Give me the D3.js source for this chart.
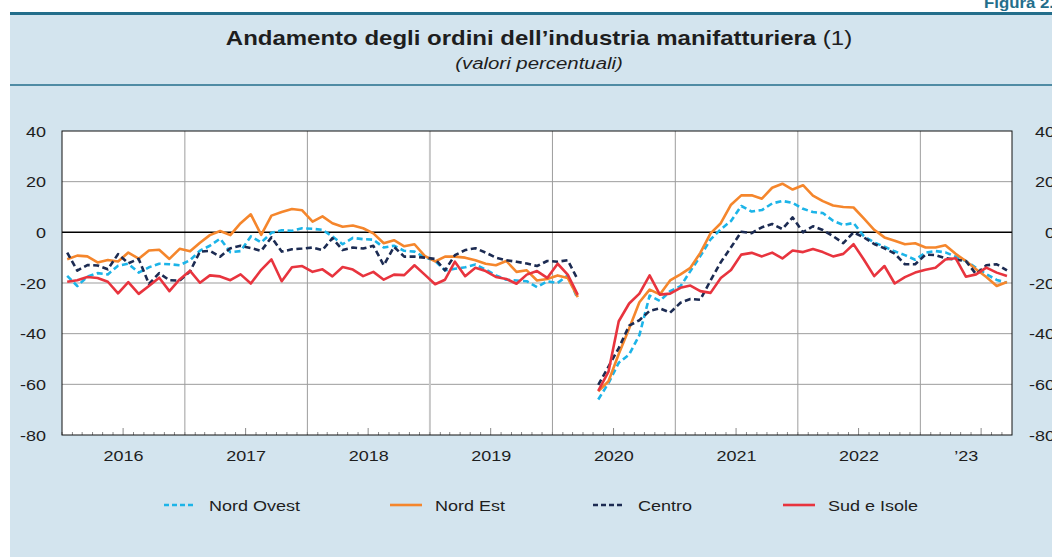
<!DOCTYPE html>

<head>
    <meta charset="utf-8">
    <script src="https://d3js.org/d3.v7.min.js"></script>
    <style>
        body { margin: 0; background: #ffffff; }
        text { font-family: "Liberation Sans", Arial, sans-serif; fill: #1e1e1e; }
    </style>
</head>

<body>
    <div id="chart"></div>
    <script>
        // months shown: Jan 2016 .. Sep 2023 (Apr 2020 missing)
        var startMonth = new Date(Date.UTC(2016, 0, 1))
        var endMonth = new Date(Date.UTC(2023, 9, 1))

        var yTicks = [40, 20, 0, -20, -40, -60, -80]
        var years = [2016, 2017, 2018, 2019, 2020, 2021, 2022, 2023]
        var yearLabels = ["2016", "2017", "2018", "2019", "2020", "2021", "2022", "\u201923"]
        var seriesNames = ["Nord Ovest", "Nord Est", "Centro", "Sud e Isole"]

        var nordOvest = [-17.2, -21.2, -17.5, -16.1, -16.6, -13.2, -12.4, -15.9, -13.8, -12.4, -12.6, -13,
            -11, -7.2, -5.3, -2.5, -7.8, -7.4, -1.6, -4, -0.2, 0.8, 0.6, 1.6,
            1.4, 1, -1.6, -4.7, -2.2, -2.7, -2.9, -6, -5.3, -7.3, -7.6, -9.8,
            -11.3, -15, -14.4, -13.8, -12.7, -14.7, -17, -18.7, -19, -19.3, -21.6, -19.3,
            -20, -17, -26.3, null, -66, -59.5, -51.5, -48.2, -40.6, -25, -27.1, -23.2,
            -21.3, -15.3, -9.4, -2.8, 1.2, 4.5, 10.4, 8.2, 8.8, 11.4, 12.4, 11.6,
            9.3, 8, 7.6, 4.6, 2.9, 3.7, -1.5, -4, -5.7, -7.5, -9, -10.8,
            -8, -7.4, -7.9, -9.6, -11.3, -14, -16.5, -18.8, -19.9]

        var nordEst = [-10.6, -9.2, -9.5, -11.9, -10.9, -11.5, -8, -10.4, -7.2, -6.9, -10.5, -6.5,
            -7.5, -4.1, -1.1, 0.5, -1.1, 3.6, 7.1, -1, 6.6, 8, 9.2, 8.7,
            4.2, 6.3, 3.6, 2.2, 2.7, 1.6, -0.4, -4.3, -3.1, -5.5, -4.7, -9.3,
            -11.5, -9.6, -9.6, -10, -11, -12.4, -13, -11.3, -15.6, -15, -19, -18.4,
            -17, -18, -25.6, null, -62.8, -58.8, -48, -38, -27.6, -22.6, -24.5, -19,
            -16.6, -14, -8.1, -0.4, 3.6, 10.9, 14.6, 14.6, 13.3, 17.6, 19.2, 16.9,
            18.6, 14.5, 12.3, 10.6, 10, 9.8, 5.5, 1, -2, -3.3, -4.7, -4.3,
            -6, -6, -5.1, -8.5, -11.3, -14.6, -17.6, -21.2, -19.6]

        var centro = [-8, -15.1, -12.9, -13.1, -14.6, -8.6, -12.2, -10.5, -20.4, -16.1, -18.9, -19.1,
            -15.4, -7.6, -7.3, -9.6, -6.3, -5.3, -6.2, -7.3, -2, -7.6, -6.7, -6.4,
            -6, -7, -2.3, -7, -6, -6.4, -5.3, -13, -5.7, -9.6, -9.6, -10,
            -10.5, -15, -9, -7, -6.3, -8, -10, -11, -11.6, -12.3, -13.3, -11.3,
            -11.6, -11, -18.7, null, -60.2, -53, -45.7, -36.8, -34.7, -31, -30, -31.7,
            -27.8, -26.3, -26.6, -19, -11.8, -5.9, 0.2, -0.3, 2, 3.3, 1.3, 5.9,
            0, 2.4, 0.9, -1.5, -4.3, 0, -2, -4.6, -6.3, -8.4, -12.6, -12.6,
            -8.8, -9, -10.2, -10.8, -11.3, -16.5, -13, -12.6, -15]

        var sudIsole = [-19.5, -18.9, -17.6, -18, -19.5, -24.1, -19.7, -24.3, -21.2, -17.9, -23.2, -18.6,
            -15.2, -19.9, -17, -17.4, -18.9, -16.6, -20.2, -14.8, -10.7, -19.3, -13.8, -13.3,
            -15.6, -14.6, -17.4, -13.7, -14.7, -17.3, -15.6, -18.7, -16.7, -16.9, -13, -16.7,
            -20.5, -18.7, -11.6, -17.3, -14, -15.3, -17.6, -18.4, -20.3, -16.7, -15.3, -18,
            -12.4, -16.7, -24.7, null, -62.6, -55, -35.1, -28.1, -24.2, -17, -24.6, -24.2,
            -21.9, -21, -23.2, -23.9, -18, -14.9, -8.8, -8.1, -9.5, -8, -10.3, -7.2,
            -7.8, -6.6, -7.8, -9.5, -8.5, -4.7, -10.7, -17.3, -13.3, -20.2, -17.7, -15.9,
            -14.8, -14, -10.7, -10.2, -17.5, -16.6, -13.9, -15.9, -17.2]

        var seriesValues = [nordOvest, nordEst, centro, sudIsole]
        var seriesColors = ["#1cb4e8", "#f5862c", "#1c2b52", "#e8343e"]
        var seriesDash = ["6,3.5", null, "6,3.5", null]

        var chart = function() {
            var W = 1052, H = 557
            var plot = { left: 62, right: 1012, top: 131, bottom: 435 }
            var sx = 1.2 // text in the original is a bit wide

            var svg = d3.select("#chart").append("svg")
                .attr("width", W)
                .attr("height", H)

            function label(g, x, y, str, size, anchor) {
                return g.append("text")
                    .attr("transform", "translate(" + x + "," + y + ") scale(" + sx + ",1)")
                    .attr("text-anchor", anchor || "start")
                    .attr("font-size", size)
                    .text(str)
            }

            //////////////////// frame ///////////////////////
            svg.append("rect")
                .attr("x", 10).attr("y", 13)
                .attr("width", W).attr("height", H)
                .attr("fill", "#d3e4ee")
            svg.append("line")
                .attr("x1", 10).attr("x2", W).attr("y1", 13.5).attr("y2", 13.5)
                .attr("stroke", "#236e8b").attr("stroke-width", 3)
            svg.append("line")
                .attr("x1", 10).attr("x2", W).attr("y1", 85).attr("y2", 85)
                .attr("stroke", "#236e8b").attr("stroke-width", 1.5)

            // header label, cropped at the right edge as in the original page
            label(svg, 984, 8, "Figura 2.", 14).attr("font-weight", "bold").style("fill", "#236e8b")

            var title = label(svg, 539, 45, "", 20, "middle")
            title.append("tspan").attr("font-weight", "bold").text("Andamento degli ordini dell\u2019industria manifatturiera")
            title.append("tspan").text(" (1)")
            label(svg, 539, 69, "(valori percentuali)", 17, "middle").attr("font-style", "italic")

            //////////////////// scales ///////////////////////
            var x = d3.scaleUtc().domain([startMonth, endMonth]).range([plot.left, plot.right])
            var y = d3.scaleLinear().domain([-80, 40]).range([plot.bottom, plot.top])

            var months = d3.utcMonth.range(startMonth, endMonth)
            var mid = function(m) { return new Date((+m + +d3.utcMonth.offset(m, 1)) / 2) }

            svg.append("rect")
                .attr("x", plot.left).attr("y", plot.top)
                .attr("width", plot.right - plot.left).attr("height", plot.bottom - plot.top)
                .attr("fill", "#ffffff")

            // grid
            var grid = svg.append("g")
            grid.selectAll(".hg").data(yTicks.filter(d => d > -80 && d < 40 && d !== 0))
                .enter().append("line")
                .attr("x1", plot.left).attr("x2", plot.right)
                .attr("y1", d => y(d)).attr("y2", d => y(d))
                .attr("stroke", "#9d9d9d").attr("stroke-width", 1)
            grid.selectAll(".vg").data(years.slice(1))
                .enter().append("line")
                .attr("x1", d => x(new Date(Date.UTC(d, 0, 1)))).attr("x2", d => x(new Date(Date.UTC(d, 0, 1))))
                .attr("y1", plot.top).attr("y2", plot.bottom)
                .attr("stroke", d => d === 2019 ? "#c8c8c8" : "#9d9d9d")
                .attr("stroke-width", d => d === 2019 ? 2 : 1)

            // month ticks on the bottom axis
            svg.append("g").selectAll("line").data(d3.utcMonth.range(startMonth, endMonth))
                .enter().append("line")
                .attr("x1", d => x(d)).attr("x2", d => x(d))
                .attr("y1", plot.bottom)
                .attr("y2", d => plot.bottom - (d.getUTCMonth() === 6 ? 7 : 3))
                .attr("stroke", "#8a8a8a").attr("stroke-width", 1)

            svg.append("line")
                .attr("x1", plot.left).attr("x2", plot.right)
                .attr("y1", y(0)).attr("y2", y(0))
                .attr("stroke", "#000").attr("stroke-width", 1.5)

            //////////////////// series ///////////////////////
            var line = d3.line()
                .defined(d => d.v != null)
                .x(d => x(mid(d.m)))
                .y(d => y(d.v))

            seriesValues.forEach(function(vals, k) {
                var pts = months.map((m, i) => ({ m: m, v: vals[i] }))
                svg.append("path")
                    .datum(pts)
                    .attr("d", line)
                    .attr("fill", "none")
                    .attr("stroke", seriesColors[k])
                    .attr("stroke-width", 2.6)
                    .attr("stroke-dasharray", seriesDash[k])
                    .attr("stroke-linejoin", "round")
            })

            svg.append("rect")
                .attr("x", plot.left).attr("y", plot.top)
                .attr("width", plot.right - plot.left).attr("height", plot.bottom - plot.top)
                .attr("fill", "none").attr("stroke", "#111").attr("stroke-width", 1)

            //////////////////// axes labels ///////////////////////
            yTicks.forEach(function(t) {
                label(svg, 46, y(t) + 5.5, String(t), 15, "end")
                label(svg, 1055, y(t) + 5.5, String(t), 15, "end")
            })

            years.forEach(function(yr, i) {
                var a = d3.max([startMonth, new Date(Date.UTC(yr, 0, 1))])
                var b = d3.min([endMonth, new Date(Date.UTC(yr + 1, 0, 1))])
                label(svg, (x(a) + x(b)) / 2, 461, yearLabels[i], 15, "middle")
            })

            //////////////////// legend ///////////////////////
            var legendX = [164, 390, 593, 783]
            seriesNames.forEach(function(name, k) {
                var g = svg.append("g").attr("transform", "translate(" + legendX[k] + ",505)")
                g.append("line")
                    .attr("x1", 0).attr("x2", 32).attr("y1", 0).attr("y2", 0)
                    .attr("stroke", seriesColors[k]).attr("stroke-width", 2.6)
                    .attr("stroke-dasharray", seriesDash[k] ? "5,3" : null)
                label(g, 45, 5.5, name, 15)
            })
        }()
    </script>
</body>

</html>
